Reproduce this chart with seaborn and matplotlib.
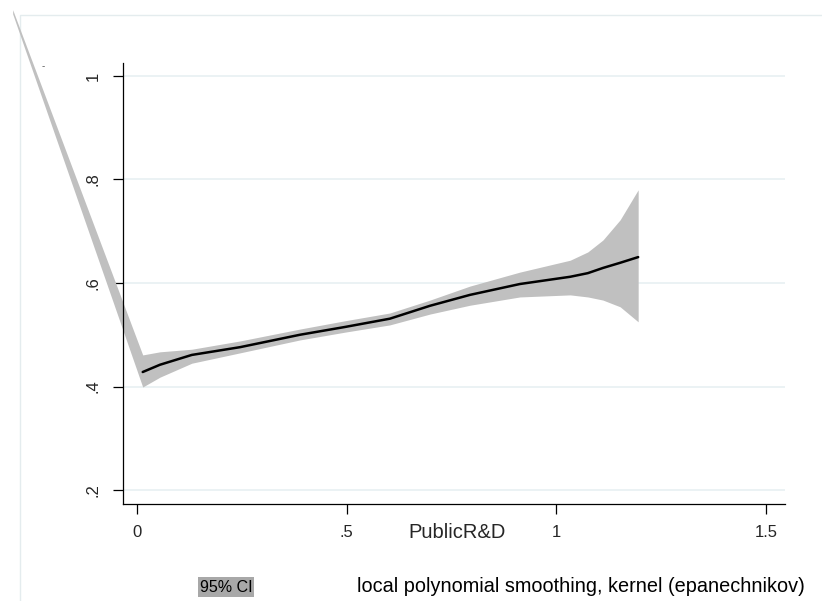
import matplotlib
matplotlib.use("Agg")
import matplotlib.pyplot as plt
from matplotlib.patches import Rectangle
import seaborn as sns
import pandas as pd

# ---- data ----
line_x = [0.014, 0.055, 0.131, 0.246, 0.389, 0.496, 0.603, 0.699, 0.794,
          0.913, 1.033, 1.075, 1.111, 1.152, 1.195]
line_y = [0.428, 0.442, 0.461, 0.476, 0.500, 0.515, 0.531, 0.556, 0.577,
          0.598, 0.612, 0.619, 0.629, 0.639, 0.650]

band_x = [-0.296, 0.014, 0.055, 0.131, 0.246, 0.389, 0.496, 0.603, 0.699,
          0.794, 0.913, 1.033, 1.075, 1.111, 1.152, 1.195]
band_upper = [1.128, 0.461, 0.467, 0.472, 0.488, 0.511, 0.527, 0.542, 0.567,
              0.594, 0.621, 0.644, 0.660, 0.683, 0.722, 0.780]
band_lower = [1.120, 0.399, 0.418, 0.445, 0.465, 0.490, 0.505, 0.519, 0.540,
              0.557, 0.573, 0.577, 0.573, 0.567, 0.554, 0.525]

x_ticks = [0, 0.5, 1, 1.5]
x_ticklabels = ["0", ".5", "1", "1.5"]
y_ticks = [0.2, 0.4, 0.6, 0.8, 1.0]
y_ticklabels = [".2", ".4", ".6", ".8", "1"]

x_label = "PublicR&D"
legend_ci = "95% CI"
legend_line = "local polynomial smoothing, kernel (epanechnikov)"

# ---- style ----
sns.set_style("white")
plt.rcParams["font.family"] = ["Liberation Sans", "DejaVu Sans"]

fig = plt.figure(figsize=(8.22, 6.01), dpi=100)
ax = fig.add_axes([123 / 822, 1 - 504 / 601, (785 - 123) / 822, (504 - 63) / 601])

# outer graph-region border (faint)
fig.add_artist(Rectangle((20 / 822, -0.2), 1.2, 1 - 15 / 601 + 0.2,
                         transform=fig.transFigure, fill=False,
                         edgecolor="#e4ecee", linewidth=1.0, zorder=0))

# CI band (not clipped, as in the reference)
band = ax.fill_between(band_x, band_lower, band_upper, color="#c0c0c0",
                       linewidth=0, zorder=2)
band.set_clip_on(False)

df = pd.DataFrame({"x": line_x, "y": line_y})
sns.lineplot(data=df, x="x", y="y", ax=ax, color="black", linewidth=1.8,
             zorder=3, sort=False)
for ln in ax.lines:
    ln.set_solid_joinstyle("round")

ax.set_xlim(-0.033, 1.545)
ax.set_ylim(0.173, 1.025)

ax.set_xticks(x_ticks)
ax.set_xticklabels(x_ticklabels, fontsize=12)
ax.set_yticks(y_ticks)
ax.set_yticklabels(y_ticklabels, fontsize=12, rotation=90, va="center")

ax.grid(axis="y", color="#e8f0f2", linewidth=1.2, zorder=0)
ax.grid(axis="x", visible=False)
ax.set_axisbelow(True)

for s in ["top", "right"]:
    ax.spines[s].set_visible(False)
for s in ["left", "bottom"]:
    ax.spines[s].set_color("black")
    ax.spines[s].set_linewidth(0.9)

ax.tick_params(axis="both", which="major", direction="out", length=7,
               width=0.9, color="black", bottom=True, left=True)
ax.tick_params(axis="x", pad=8)
ax.tick_params(axis="y", pad=9)

ax.set_ylabel("")
ax.set_xlabel(x_label, fontsize=14.5)
ax.xaxis.set_label_coords((457 - 123) / 662, (504 - 533) / 441)
ax.xaxis.label.set_va("center")

# small artifact mark at top-left
fig.text(43 / 822, 1 - 66 / 601, "-", fontsize=7, color="#555555",
         ha="center", va="center")

# legend (below plot)
fig.text(226 / 822, 1 - 587 / 601, legend_ci, fontsize=11.5, ha="center",
         va="center", color="black",
         bbox=dict(facecolor="#a8a8a8", edgecolor="none", pad=1.5))
fig.text(357 / 822, 1 - 587 / 601, legend_line, fontsize=14.3, ha="left",
         va="center", color="black")

fig.savefig("out.png", dpi=100)
